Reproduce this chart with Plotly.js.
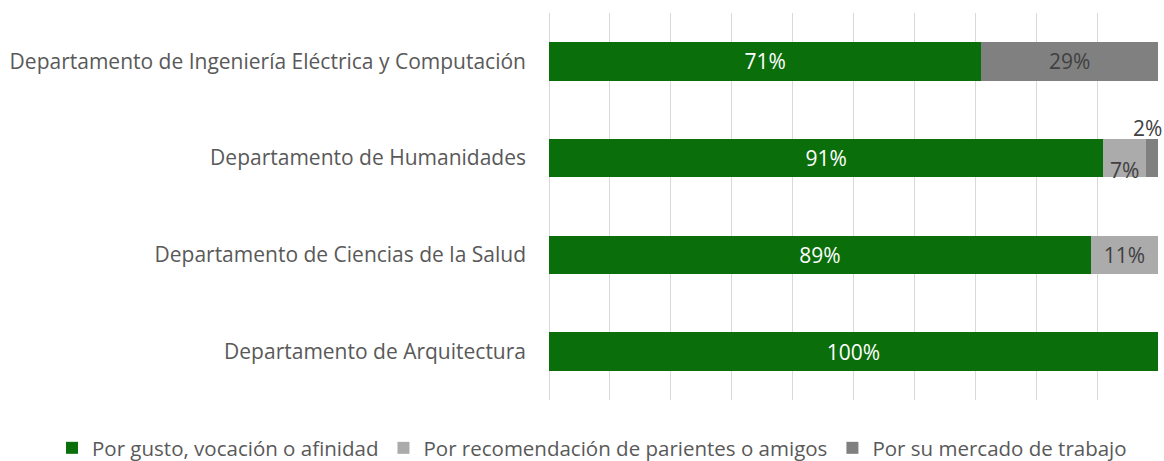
<!DOCTYPE html>
<html><head><meta charset="utf-8">
<script src="https://cdn.plot.ly/plotly-3.0.1.min.js"></script>
<style>body{margin:0;background:#fff}#c{width:1164px;height:461px}</style>
</head><body><div id="c"></div>
<script>
const categories = ["Departamento de Arquitectura","Departamento de Ciencias de la Salud","Departamento de Humanidades","Departamento de Ingeniería Eléctrica y Computación"];
const seriesNames = ["Por gusto, vocación o afinidad","Por recomendación de parientes o amigos","Por su mercado de trabajo"];
const gusto = [100, 89, 91, 71];
const recomendacion = [0, 11, 7, 0];
const mercado = [0, 0, 2, 29];
const colors = ["#0a6e0a","#ababab","#808080"];
const textColors = ["#ffffff","#404040","#404040"];
const FONT = "Open Sans, sans-serif";
const FS = 21;
const W = 1164, H = 461;

const series = [gusto, recomendacion, mercado];
const traces = series.map((vals, i) => ({
  type: "bar", orientation: "h", name: seriesNames[i],
  y: categories, x: vals,
  marker: {color: colors[i]},
  text: vals.map(v => (v >= 10 ? v + "%" : "")),
  textposition: "inside", insidetextanchor: "middle",
  textfont: {color: textColors[i], size: FS, family: FONT},
  hoverinfo: "none"
}));

const annotations = [];
series.forEach((vals, i) => {
  vals.forEach((v, j) => {
    if (v > 0 && v < 10) {
      let start = 0;
      for (let k = 0; k < i; k++) start += series[k][j];
      annotations.push({
        x: start + v / 2, y: categories[j], xref: "x", yref: "y",
        text: v + "%", showarrow: false,
        font: {color: "#404040", size: FS, family: FONT},
        yshift: i === 2 ? 30 : -12, xshift: i === 2 ? -4 : 0
      });
    }
  });
});

const layout = {
  width: W, height: H,
  margin: {l: 0, r: 0, t: 0, b: 0, pad: 0, autoexpand: false},
  barmode: "stack", bargap: 0.6,
  paper_bgcolor: "#fff", plot_bgcolor: "#fff",
  font: {family: FONT, color: "#595959", size: FS},
  xaxis: {domain: [549 / W, 1158 / W], range: [0, 100], dtick: 10, showgrid: true, gridcolor: "#d9d9d9", gridwidth: 1,
          showticklabels: false, zeroline: true, zerolinecolor: "#d9d9d9", zerolinewidth: 1,
          showline: false, ticks: "", fixedrange: true},
  yaxis: {domain: [61 / H, 448 / H], type: "category", showgrid: false, ticks: "", automargin: false, ticklabelstandoff: 22,
          tickfont: {size: FS, color: "#595959", family: FONT}, showline: false, zeroline: false},
  showlegend: true,
  legend: {orientation: "h", xref: "paper", x: 52 / W, xanchor: "left",
           yref: "paper", y: -7 / H, yanchor: "bottom",
           font: {size: 20.5, color: "#595959", family: FONT}, traceorder: "normal", itemwidth: 30},
  annotations: annotations
};
Plotly.newPlot("c", traces, layout, {displayModeBar: false, staticPlot: true});
</script></body></html>
